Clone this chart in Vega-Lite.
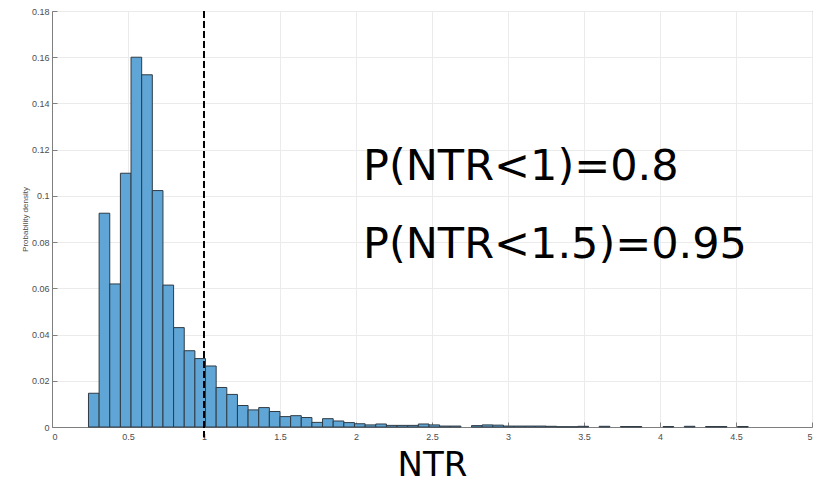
{
  "$schema": "https://vega.github.io/schema/vega-lite/v6.json",
  "width": 760,
  "height": 416,
  "autosize": {"type": "none"},
  "padding": {"left": 52, "top": 11, "right": 12, "bottom": 58},
  "background": "white",
  "config": {
    "view": {"stroke": "#8c8c8c", "strokeWidth": 1},
    "axis": {
      "labelFont": "Liberation Sans",
      "labelFontSize": 9,
      "labelColor": "#4d4d4d",
      "domainColor": "#7f7f7f",
      "tickColor": "#7f7f7f",
      "gridColor": "#ebebeb",
      "gridWidth": 1
    }
  },
  "layer": [
    {
      "data": {
        "values": [
          {"lo": 0.24, "hi": 0.31, "p": 0.0146},
          {"lo": 0.31, "hi": 0.38, "p": 0.0925},
          {"lo": 0.38, "hi": 0.45, "p": 0.0619},
          {"lo": 0.45, "hi": 0.52, "p": 0.1098},
          {"lo": 0.52, "hi": 0.59, "p": 0.1600},
          {"lo": 0.59, "hi": 0.66, "p": 0.1524},
          {"lo": 0.66, "hi": 0.73, "p": 0.1023},
          {"lo": 0.73, "hi": 0.80, "p": 0.0614},
          {"lo": 0.80, "hi": 0.87, "p": 0.0430},
          {"lo": 0.87, "hi": 0.94, "p": 0.0330},
          {"lo": 0.94, "hi": 1.01, "p": 0.0296},
          {"lo": 1.01, "hi": 1.08, "p": 0.0264},
          {"lo": 1.08, "hi": 1.15, "p": 0.0171},
          {"lo": 1.15, "hi": 1.22, "p": 0.0141},
          {"lo": 1.22, "hi": 1.29, "p": 0.0093},
          {"lo": 1.29, "hi": 1.36, "p": 0.0074},
          {"lo": 1.36, "hi": 1.43, "p": 0.0084},
          {"lo": 1.43, "hi": 1.50, "p": 0.0067},
          {"lo": 1.50, "hi": 1.57, "p": 0.0045},
          {"lo": 1.57, "hi": 1.64, "p": 0.0049},
          {"lo": 1.64, "hi": 1.71, "p": 0.0041},
          {"lo": 1.71, "hi": 1.78, "p": 0.0020},
          {"lo": 1.78, "hi": 1.85, "p": 0.0036},
          {"lo": 1.85, "hi": 1.92, "p": 0.0026},
          {"lo": 1.92, "hi": 1.99, "p": 0.0019},
          {"lo": 1.99, "hi": 2.06, "p": 0.0014},
          {"lo": 2.06, "hi": 2.13, "p": 0.0009},
          {"lo": 2.13, "hi": 2.20, "p": 0.0013},
          {"lo": 2.20, "hi": 2.27, "p": 0.0007},
          {"lo": 2.27, "hi": 2.34, "p": 0.0007},
          {"lo": 2.34, "hi": 2.41, "p": 0.0007},
          {"lo": 2.41, "hi": 2.48, "p": 0.0013},
          {"lo": 2.48, "hi": 2.55, "p": 0.0009},
          {"lo": 2.55, "hi": 2.62, "p": 0.0004},
          {"lo": 2.62, "hi": 2.69, "p": 0.0004},
          {"lo": 2.76, "hi": 2.83, "p": 0.0006},
          {"lo": 2.83, "hi": 2.90, "p": 0.0009},
          {"lo": 2.90, "hi": 2.97, "p": 0.0008},
          {"lo": 2.97, "hi": 3.04, "p": 0.0004},
          {"lo": 3.04, "hi": 3.11, "p": 0.0004},
          {"lo": 3.11, "hi": 3.18, "p": 0.0004},
          {"lo": 3.18, "hi": 3.25, "p": 0.0004},
          {"lo": 3.25, "hi": 3.32, "p": 0.0003},
          {"lo": 3.32, "hi": 3.39, "p": 0.0001},
          {"lo": 3.39, "hi": 3.46, "p": 0.0001},
          {"lo": 3.46, "hi": 3.53, "p": 0.0003},
          {"lo": 3.60, "hi": 3.67, "p": 0.0003},
          {"lo": 3.74, "hi": 3.81, "p": 0.0002},
          {"lo": 3.81, "hi": 3.88, "p": 0.0002},
          {"lo": 4.02, "hi": 4.09, "p": 0.0002},
          {"lo": 4.16, "hi": 4.23, "p": 0.0003},
          {"lo": 4.30, "hi": 4.37, "p": 0.0002},
          {"lo": 4.37, "hi": 4.44, "p": 0.0002},
          {"lo": 4.51, "hi": 4.58, "p": 0.0002}
        ]
      },
      "mark": {"type": "bar", "fill": "#5fa6d6", "stroke": "#2f3b45", "strokeWidth": 1},
      "encoding": {
        "x": {
          "field": "lo", "type": "quantitative",
          "scale": {"domain": [0, 5], "nice": false},
          "axis": {
            "values": [0, 0.5, 1, 1.5, 2, 2.5, 3, 3.5, 4, 4.5, 5],
            "format": "~f",
            "tickSize": -5,
            "labelPadding": 10,
            "title": "NTR",
            "titleFont": "DejaVu Sans",
            "titleFontSize": 34,
            "titleFontWeight": "normal",
            "titleColor": "#000000",
            "titlePadding": 7
          }
        },
        "x2": {"field": "hi"},
        "y": {
          "field": "p", "type": "quantitative",
          "scale": {"domain": [0, 0.18], "nice": false},
          "axis": {
            "values": [0, 0.02, 0.04, 0.06, 0.08, 0.1, 0.12, 0.14, 0.16, 0.18],
            "format": "~f",
            "tickSize": -5,
            "labelPadding": 8,
            "title": "Probability density",
            "titleFont": "Liberation Sans",
            "titleFontSize": 8,
            "titleFontWeight": "normal",
            "titleColor": "#4d4d4d",
            "titlePadding": 2
          }
        },
        "y2": {"datum": 0}
      }
    },
    {
      "data": {"values": [{"x": 1, "top": 0.18, "bot": -0.0045}]},
      "mark": {"type": "rule", "color": "#000000", "strokeWidth": 2, "strokeDash": [7, 3], "clip": false},
      "encoding": {
        "x": {"field": "x", "type": "quantitative"},
        "y": {"field": "top", "type": "quantitative"},
        "y2": {"field": "bot"}
      }
    },
    {
      "data": {
        "values": [
          {"tx": 2.046, "ty": 0.1069, "label": "P(NTR<1)=0.8"},
          {"tx": 2.046, "ty": 0.0731, "label": "P(NTR<1.5)=0.95"}
        ]
      },
      "mark": {"type": "text", "font": "DejaVu Sans", "fontSize": 43, "align": "left", "baseline": "alphabetic", "color": "#000000"},
      "encoding": {
        "x": {"field": "tx", "type": "quantitative"},
        "y": {"field": "ty", "type": "quantitative"},
        "text": {"field": "label"}
      }
    }
  ]
}
